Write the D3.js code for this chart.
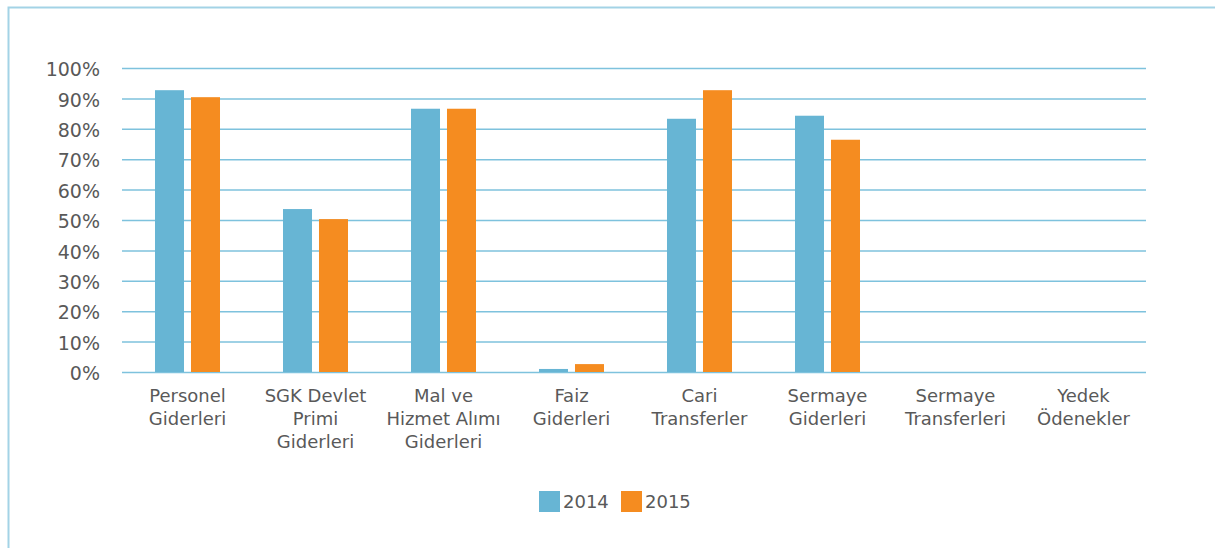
<!DOCTYPE html>
<html lang="tr">
	<head>
		<meta charset="utf-8">
		<title>Bütçe gerçekleşme oranları</title>
		<script type="text/javascript" src="https://cdn.jsdelivr.net/npm/d3@7"></script>
		<style type="text/css">
			body { margin: 0; background: #fff; }
			text { font-family: "DejaVu Sans", sans-serif; fill: #595959; }
		</style>
	</head>
	<body>
		<script type="text/javascript">

			//Width and height
			var w = 1215;
			var h = 548;

			//Data
			var categories = [
				["Personel", "Giderleri"],
				["SGK Devlet", "Primi", "Giderleri"],
				["Mal ve", "Hizmet Alımı", "Giderleri"],
				["Faiz", "Giderleri"],
				["Cari", "Transferler"],
				["Sermaye", "Giderleri"],
				["Sermaye", "Transferleri"],
				["Yedek", "Ödenekler"]
			];
			var seriesNames = ["2014", "2015"];
			var values2014 = [92.7, 53.6, 86.6, 1.0, 83.3, 84.3, 0, 0];
			var values2015 = [90.4, 50.3, 86.6, 2.6, 92.7, 76.4, 0, 0];
			var yTicks = [0, 10, 20, 30, 40, 50, 60, 70, 80, 90, 100];

			var colors = ["#67b5d4", "#f58c20"];

			//Plot area edges
			var plotLeft = 122, plotRight = 1146, plotTop = 68, plotBottom = 372;

			var xScale = d3.scaleBand()
						   .domain(d3.range(categories.length))
						   .range([plotLeft, plotRight]);

			var xInner = d3.scaleBand()
						   .domain([0, 1])
						   .range([1.5, xScale.bandwidth() + 1.5])
						   .paddingInner(0.194)
						   .paddingOuter(0.875);

			var yScale = d3.scaleLinear()
						   .domain([0, 100])
						   .range([plotBottom, plotTop]);

			var svg = d3.select("body")
						.append("svg")
						.attr("width", w)
						.attr("height", h);

			//Frame (only top and left edges fall inside the picture)
			svg.append("path")
			   .attr("d", "M8.5,548V7.5H1215")
			   .attr("fill", "none")
			   .attr("stroke", "#a3d3e6")
			   .attr("stroke-width", 2);

			//Gridlines + y labels
			var yAxis = d3.axisLeft(yScale)
						  .tickValues(yTicks)
						  .tickSize(-(plotRight - plotLeft))
						  .tickPadding(22)
						  .tickFormat(function(d) { return d + "%"; });

			var gy = svg.append("g")
						.attr("transform", "translate(" + plotLeft + ",0)")
						.call(yAxis);
			gy.select(".domain").remove();
			gy.selectAll("line")
			  .attr("stroke", "#7ec2dd")
			  .attr("stroke-width", 1.5);
			gy.selectAll("text")
			  .attr("font-size", "19px")
			  .attr("dy", "0.4em")
			  .attr("font-family", "DejaVu Sans, sans-serif")
			  .attr("fill", "#595959");

			//Bars
			var series = [values2014, values2015];
			series.forEach(function(vals, s) {
				svg.append("g")
				   .selectAll("rect")
				   .data(vals)
				   .enter()
				   .append("rect")
				   .attr("x", function(d, i) { return xScale(i) + xInner(s); })
				   .attr("y", function(d) { return yScale(d); })
				   .attr("width", xInner.bandwidth())
				   .attr("height", function(d) { return plotBottom - yScale(d); })
				   .attr("fill", colors[s]);
			});

			//Category labels
			var lab = svg.append("g")
						 .selectAll("text")
						 .data(categories)
						 .enter()
						 .append("text")
						 .attr("text-anchor", "middle")
						 .attr("font-size", "18px")
						 .attr("x", function(d, i) { return xScale(i) + xScale.bandwidth() / 2 + 1.5; })
						 .attr("y", 402);
			lab.selectAll("tspan")
			   .data(function(d) { return d; })
			   .enter()
			   .append("tspan")
			   .attr("x", function() { return this.parentNode.getAttribute("x"); })
			   .attr("dy", function(d, i) { return i === 0 ? 0 : 23; })
			   .text(function(d) { return d; });

			//Legend
			var legX = [539, 621];
			var leg = svg.append("g")
						 .selectAll("g")
						 .data(seriesNames)
						 .enter()
						 .append("g")
						 .attr("transform", function(d, i) { return "translate(" + legX[i] + ",491)"; });
			leg.append("rect")
			   .attr("width", 21)
			   .attr("height", 21)
			   .attr("fill", function(d, i) { return colors[i]; });
			leg.append("text")
			   .attr("x", 24)
			   .attr("y", 17)
			   .attr("font-size", "18px")
			   .text(function(d) { return d; });

		</script>
	</body>
</html>
